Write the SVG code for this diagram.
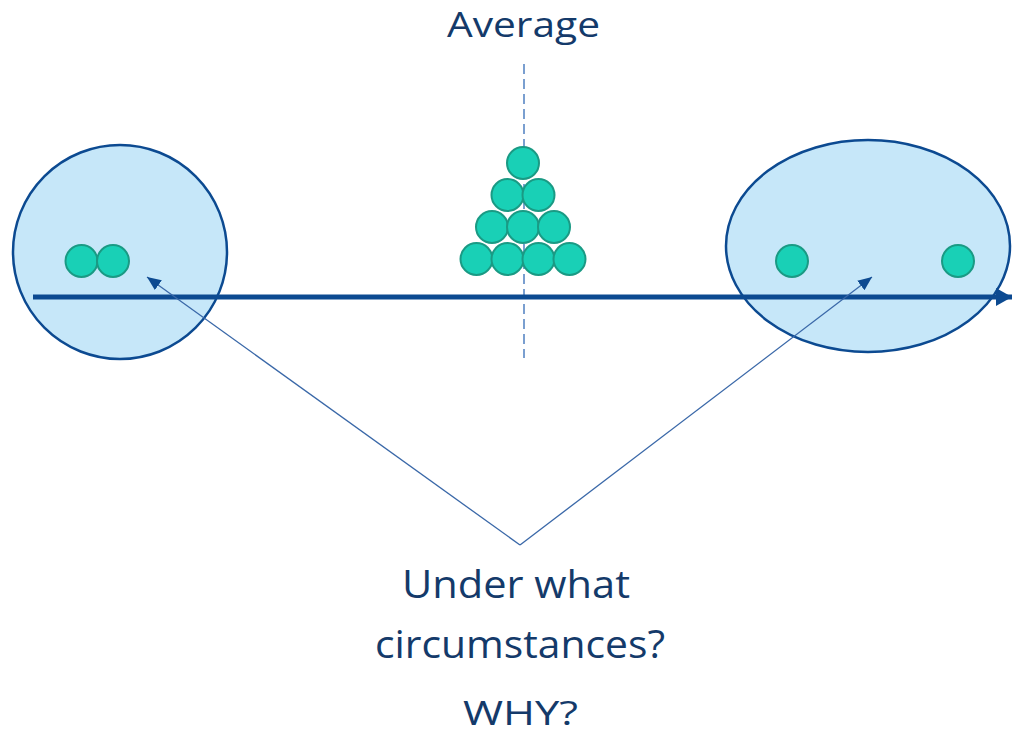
<svg xmlns="http://www.w3.org/2000/svg" width="1012" height="736" viewBox="0 0 1012 736">
<defs>
<style>
.blob{fill:#c6e7f9;stroke:#0c4a91;stroke-width:2.5}
.dot{fill:#19d0b6;stroke:#1a9a84;stroke-width:2}
.lbl{font-family:"Open Sans","Liberation Sans",sans-serif;fill:#143a6a;text-anchor:middle}
.thin{stroke:#3a68a8;stroke-width:1.3;fill:none}
</style>
<marker id="hs" viewBox="0 0 14 12" refX="14" refY="6" markerWidth="14" markerHeight="12" markerUnits="userSpaceOnUse" orient="auto"><path d="M0,0 L14,6 L0,12 Z" fill="#0c4a91"/></marker>
<marker id="hb" viewBox="0 0 16 18" refX="16" refY="9" markerWidth="16" markerHeight="18" markerUnits="userSpaceOnUse" orient="auto"><path d="M0,0 L16,9 L0,18 Z" fill="#0c4a91"/></marker>
</defs>
<rect width="1012" height="736" fill="#ffffff"/>
<g id="left-group">
<circle class="blob" cx="120" cy="252" r="107"/>
<circle class="dot" cx="81.5" cy="261" r="16"/>
<circle class="dot" cx="113" cy="261" r="16"/>
</g>
<g id="right-group">
<ellipse class="blob" cx="868" cy="246" rx="142" ry="106"/>
<circle class="dot" cx="792" cy="261" r="16"/>
<circle class="dot" cx="958" cy="261" r="16"/>
</g>
<g id="average-group">
<line x1="524" y1="64" x2="524" y2="358" stroke="#7a9fd0" stroke-width="2" stroke-dasharray="10,5"/>
<circle class="dot" cx="523" cy="163" r="16"/>
<circle class="dot" cx="507.5" cy="195" r="16"/>
<circle class="dot" cx="538.5" cy="195" r="16"/>
<circle class="dot" cx="492" cy="227" r="16"/>
<circle class="dot" cx="523" cy="227" r="16"/>
<circle class="dot" cx="554" cy="227" r="16"/>
<circle class="dot" cx="476.5" cy="259" r="16"/>
<circle class="dot" cx="507.5" cy="259" r="16"/>
<circle class="dot" cx="538.5" cy="259" r="16"/>
<circle class="dot" cx="569.5" cy="259" r="16"/>
<text class="lbl" x="523.5" y="37" font-size="35" textLength="153" lengthAdjust="spacingAndGlyphs">Average</text>
</g>
<g id="connectors">
<line x1="33" y1="297" x2="1012" y2="297" stroke="#0c4a91" stroke-width="5" marker-end="url(#hb)"/>
<line class="thin" x1="520" y1="545" x2="147" y2="277" marker-end="url(#hs)"/>
<line class="thin" x1="520" y1="545" x2="872" y2="277" marker-end="url(#hs)"/>
</g>
<g id="question">
<text class="lbl" x="516" y="598" font-size="39" textLength="228" lengthAdjust="spacingAndGlyphs">Under what</text>
<text class="lbl" x="520" y="658" font-size="39" textLength="290" lengthAdjust="spacingAndGlyphs">circumstances?</text>
<text class="lbl" x="520.5" y="725" font-size="33" textLength="115" lengthAdjust="spacingAndGlyphs">WHY?</text>
</g>
</svg>
